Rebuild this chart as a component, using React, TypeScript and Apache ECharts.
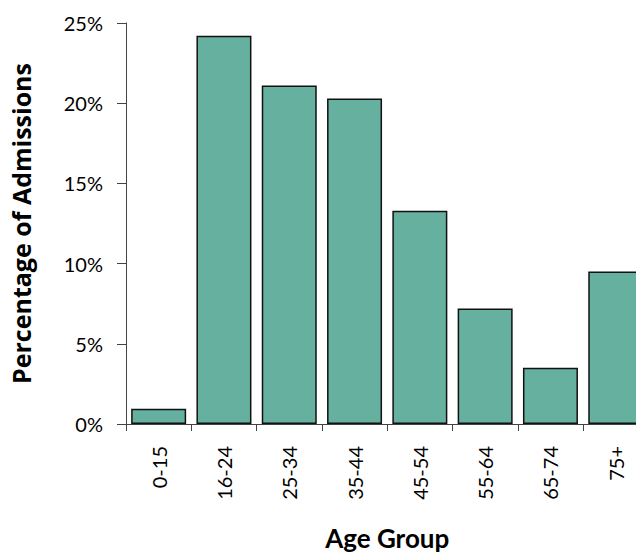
import React, { useEffect, useRef } from "react";
import * as echarts from "echarts";

const categories = ["0-15", "16-24", "25-34", "35-44", "45-54", "55-64", "65-74", "75+"];
const percentages = [0.95, 24.2, 21.1, 20.3, 13.3, 7.2, 3.5, 9.5];
const yTicks = { min: 0, max: 25, interval: 5 };

export default function App() {
  const ref = useRef<HTMLDivElement>(null);
  useEffect(() => {
    if (!ref.current) return;
    const chart = echarts.init(ref.current, null, { renderer: "svg" });
    chart.setOption({
      animation: false,
      backgroundColor: "#ffffff",
      grid: { left: 126, top: 23, bottom: 126, right: 11.6 },
      xAxis: {
        type: "category",
        data: categories,
        name: "Age Group",
        nameLocation: "middle",
        nameGap: 101,
        nameTextStyle: { fontFamily: "Lato", fontWeight: "bold", fontSize: 26, color: "#000", letterSpacing: 1 },
        axisLine: { show: true, lineStyle: { color: "#444", width: 1 } },
        axisTick: { show: true, length: 7, lineStyle: { color: "#444" } },
        axisLabel: { rotate: 90, margin: 22, fontFamily: "Lato", fontSize: 20, color: "#000" },
      },
      yAxis: {
        type: "value",
        min: yTicks.min,
        max: yTicks.max,
        interval: yTicks.interval,
        name: "Percentage of Admissions",
        nameLocation: "middle",
        nameRotate: 90,
        nameGap: 93,
        nameTextStyle: { fontFamily: "Open Sans", fontWeight: "bold", fontSize: 25, color: "#000" },
        axisLine: { show: true, lineStyle: { color: "#444", width: 1 } },
        axisTick: { show: true, length: 9, lineStyle: { color: "#444" } },
        splitLine: { show: false },
        axisLabel: { formatter: "{value}%", margin: 23, fontFamily: "Lato", fontSize: 20, color: "#000" },
      },
      series: [
        {
          type: "bar",
          data: percentages,
          barWidth: 55,
          itemStyle: { color: "#66b0a0", borderColor: "#111", borderWidth: 1.5 },
        },
      ],
    });
    return () => chart.dispose();
  }, []);
  return (
    <div style={{ position: "fixed", left: 0, top: 0, width: 636, height: 556, overflow: "hidden", background: "#fff" }}>
      <div ref={ref} style={{ width: 660, height: 556 }} />
    </div>
  );
}
